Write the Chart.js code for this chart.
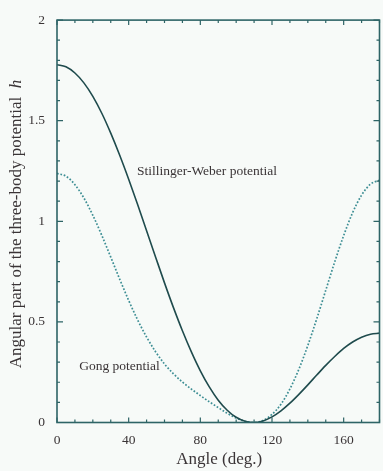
<!DOCTYPE html>
<html>
<head>
<meta charset="utf-8">
<script src="https://cdn.jsdelivr.net/npm/chart.js@4.4.1/dist/chart.umd.min.js"></script>
<style>
  html, body { margin: 0; padding: 0; background: #f7faf8; }
  #wrap { width: 383px; height: 471px; }
</style>
</head>
<body>
<div id="wrap"><canvas id="chart" width="383" height="471"></canvas></div>
<script>
// angle (deg.) sampled every 5 degrees
const angles = [0, 5, 10, 15, 20, 25, 30, 35, 40, 45, 50, 55, 60, 65, 70, 75, 80, 85, 90,
                95, 100, 105, 110, 115, 120, 125, 130, 135, 140, 145, 150, 155, 160, 165, 170, 175, 180];

// Stillinger-Weber potential (solid line)
const swValues = [1.778, 1.768, 1.737, 1.688, 1.621, 1.537, 1.438, 1.328, 1.209, 1.083, 0.953, 0.823, 0.694,
                  0.571, 0.456, 0.351, 0.257, 0.177, 0.111, 0.061, 0.026, 0.006, 0.000, 0.008, 0.028,
                  0.058, 0.096, 0.140, 0.187, 0.236, 0.284, 0.328, 0.368, 0.400, 0.424, 0.439, 0.444];

// Gong potential (dotted line)
const gongValues = [1.238, 1.224, 1.182, 1.116, 1.030, 0.930, 0.822, 0.712, 0.607, 0.510, 0.425, 0.352, 0.291,
                    0.242, 0.201, 0.166, 0.134, 0.103, 0.074, 0.046, 0.022, 0.006, 0.000, 0.010, 0.040,
                    0.091, 0.167, 0.265, 0.383, 0.516, 0.657, 0.798, 0.929, 1.043, 1.130, 1.185, 1.204];

const xTickLabels = [0, 40, 80, 120, 160];
const yTickLabels = [0, 0.5, 1, 1.5, 2];
const xMinorStep = 10;
const yMinorStep = 0.1;

const inkColor = '#2e6466';
const textColor = '#3a3436';
const serif = "'Liberation Serif', 'DejaVu Serif', serif";

// inward ticks on all four sides + the frame
const frameTicks = {
  id: 'frameTicks',
  afterDatasetsDraw(chart) {
    const { ctx, chartArea: a, scales: { x, y } } = chart;
    ctx.save();
    ctx.strokeStyle = inkColor;
    ctx.lineWidth = 1.2;
    for (let v = 0; v <= 180.001; v += xMinorStep) {
      const px = x.getPixelForValue(v);
      const len = v % 40 === 0 ? 5 : 3;
      ctx.beginPath();
      ctx.moveTo(px, a.bottom); ctx.lineTo(px, a.bottom - len);
      ctx.moveTo(px, a.top); ctx.lineTo(px, a.top + len);
      ctx.stroke();
    }
    for (let i = 0; i <= 20; i++) {
      const v = i * yMinorStep;
      const py = y.getPixelForValue(v);
      const len = i % 5 === 0 ? 6 : 3;
      ctx.beginPath();
      ctx.moveTo(a.left, py); ctx.lineTo(a.left + len, py);
      ctx.moveTo(a.right, py); ctx.lineTo(a.right - len, py);
      ctx.stroke();
    }
    ctx.lineWidth = 1.6;
    ctx.strokeRect(a.left, a.top, a.right - a.left, a.bottom - a.top);
    ctx.restore();
  }
};

// axis titles and curve labels
const labels = {
  id: 'labels',
  afterDraw(chart) {
    const { ctx, chartArea: a, scales: { x, y } } = chart;
    ctx.save();
    ctx.fillStyle = textColor;

    // x title
    ctx.font = '17px ' + serif;
    ctx.textAlign = 'center';
    ctx.textBaseline = 'alphabetic';
    ctx.fillText('Angle (deg.)', (a.left + a.right) / 2 + 1, 464);

    // y title, with italic h
    const main = 'Angular part of the three-body potential  ';
    ctx.font = '17px ' + serif;
    const w1 = ctx.measureText(main).width;
    ctx.font = 'italic 17px ' + serif;
    const w2 = ctx.measureText('h').width;
    ctx.translate(21, 224);
    ctx.rotate(-Math.PI / 2);
    ctx.textAlign = 'left';
    ctx.font = '17px ' + serif;
    ctx.fillText(main, -(w1 + w2) / 2, 0);
    ctx.font = 'italic 17px ' + serif;
    ctx.fillText('h', -(w1 + w2) / 2 + w1, 0);
    ctx.setTransform(1, 0, 0, 1, 0, 0);

    // curve labels
    ctx.font = '13.5px ' + serif;
    ctx.textAlign = 'left';
    ctx.textBaseline = 'middle';
    ctx.fillText('Stillinger-Weber potential', x.getPixelForValue(44.6), y.getPixelForValue(1.25));
    ctx.fillText('Gong potential', x.getPixelForValue(12.4), y.getPixelForValue(0.28));
    ctx.restore();
  }
};

const ctx = document.getElementById('chart').getContext('2d');
new Chart(ctx, {
  type: 'line',
  data: {
    datasets: [
      {
        label: 'Stillinger-Weber potential',
        data: angles.map((a, i) => ({ x: a, y: swValues[i] })),
        borderColor: '#1f4b4d',
        borderWidth: 1.6,
        pointRadius: 0,
        cubicInterpolationMode: 'monotone',
        fill: false,
      },
      {
        label: 'Gong potential',
        data: angles.map((a, i) => ({ x: a, y: gongValues[i] })),
        borderColor: '#3d8e94',
        borderWidth: 1.7,
        borderDash: [1.7, 1.8],
        pointRadius: 0,
        cubicInterpolationMode: 'monotone',
        fill: false,
      },
    ],
  },
  options: {
    responsive: false,
    devicePixelRatio: 1,
    animation: false,
    layout: { padding: { top: 12.5, right: 3.5, left: 0, bottom: 0 } },
    plugins: { legend: { display: false }, tooltip: { enabled: false } },
    scales: {
      x: {
        type: 'linear',
        min: 0,
        max: 180,
        grid: { display: false, drawTicks: false },
        border: { display: false },
        afterBuildTicks: (s) => { s.ticks = xTickLabels.map((v) => ({ value: v })); },
        afterFit: (s) => { s.height = 48.5; },
        ticks: {
          color: textColor,
          font: { family: serif, size: 13.5 },
          padding: 10,
          maxRotation: 0,
          autoSkip: false,
        },
      },
      y: {
        type: 'linear',
        min: 0,
        max: 2,
        grid: { display: false, drawTicks: false },
        border: { display: false },
        afterBuildTicks: (s) => { s.ticks = yTickLabels.map((v) => ({ value: v })); },
        afterFit: (s) => { s.width = 57; },
        ticks: {
          color: textColor,
          font: { family: serif, size: 13.5 },
          padding: 12,
          autoSkip: false,
          callback: (v) => String(v),
        },
      },
    },
  },
  plugins: [frameTicks, labels],
});
</script>
</body>
</html>
